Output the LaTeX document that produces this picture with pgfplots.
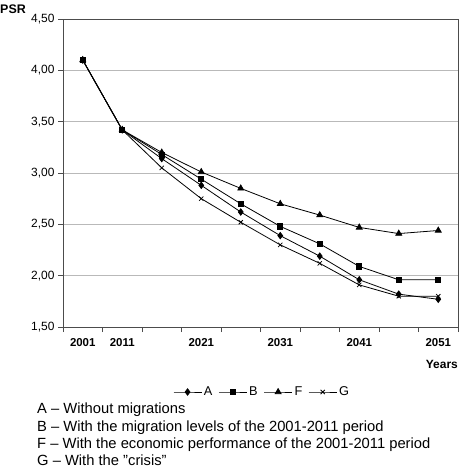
\documentclass[border=0pt]{standalone}
\usepackage{fontspec}
\setmainfont{Liberation Sans}
\usepackage{pgfplots}
\pgfplotsset{compat=1.18}
\begin{document}
\begin{tikzpicture}
\begin{axis}[
  width=395bp, height=308bp, scale only axis,
  xmin=-0.5, xmax=9.5, ymin=1.5, ymax=4.5,
  xtick={-0.5,0.5,...,9.5}, xticklabels={},
  extra x ticks={0,1,3,5,7,9},
  extra x tick labels={2001,2011,2021,2031,2041,2051},
  extra x tick style={tick style={draw=none}, ticklabel style={font=\bfseries\fontsize{11.5}{12}\selectfont, yshift=-3bp}},
  ytick={1.5,2,...,4.5},
  yticklabel style={font=\fontsize{12}{12}\selectfont},
  y tick label style={/pgf/number format/fixed, /pgf/number format/fixed zerofill, /pgf/number format/precision=2, /pgf/number format/use comma, /pgf/number format/assume math mode=true},
  xtick pos=bottom, ytick pos=left,
  tick align=outside, major tick length=5bp,
  tick style={gray!60!black, line width=0.8pt},
  axis line style={gray!60!black, line width=0.8pt},
  ymajorgrids, grid style={gray!55, line width=0.8pt},
  legend style={at={(0.504,-0.211)}, anchor=center, draw=none, legend columns=4,
    font=\fontsize{12.8}{13}\selectfont,
    /tikz/every even column/.append style={column sep=4bp}},
  legend image code/.code={\draw[mark repeat=2,mark phase=2] plot coordinates {(0bp,0bp)(14bp,0bp)(28bp,0bp)};},
  every axis plot/.append style={black, line width=0.8pt, mark options={solid, fill=black}},
]
\addplot[mark=diamond*, mark size=3.2pt] coordinates {(0,4.10)(1,3.42)(2,3.14)(3,2.88)(4,2.62)(5,2.39)(6,2.19)(7,1.96)(8,1.82)(9,1.77)};
\addlegendentry{A}
\addplot[mark=square*, mark size=2.6pt] coordinates {(0,4.10)(1,3.42)(2,3.18)(3,2.94)(4,2.70)(5,2.48)(6,2.31)(7,2.09)(8,1.96)(9,1.96)};
\addlegendentry{B}
\addplot[mark=triangle*, mark size=3.4pt] coordinates {(0,4.10)(1,3.42)(2,3.20)(3,3.01)(4,2.85)(5,2.70)(6,2.59)(7,2.47)(8,2.41)(9,2.44)};
\addlegendentry{F}
\addplot[mark=x, mark size=3pt] coordinates {(0,4.10)(1,3.42)(2,3.05)(3,2.75)(4,2.52)(5,2.30)(6,2.12)(7,1.91)(8,1.80)(9,1.80)};
\addlegendentry{G}
\end{axis}
\begin{scope}[x=1bp,y=1bp,shift={(-63bp,327bp)}]
\useasboundingbox (0,0) rectangle (462,-470);
\node[anchor=west, inner sep=0, font=\bfseries\fontsize{12.5}{13}\selectfont] at (0,-9) {PSR};
\node[anchor=east, inner sep=0, font=\bfseries\fontsize{12}{12}\selectfont] at (458,-364) {Years};
\begin{scope}[every node/.style={anchor=base west, inner sep=0, font=\fontsize{14.8}{15}\selectfont}]
\node at (37,-414) {A – Without migrations};
\node at (37,-431) {B – With the migration levels of the 2001-2011 period};
\node at (37,-448) {F – With the economic performance of the 2001-2011 period};
\node at (37,-465) {G – With the "crisis"};
\end{scope}
\end{scope}
\end{tikzpicture}
\end{document}
